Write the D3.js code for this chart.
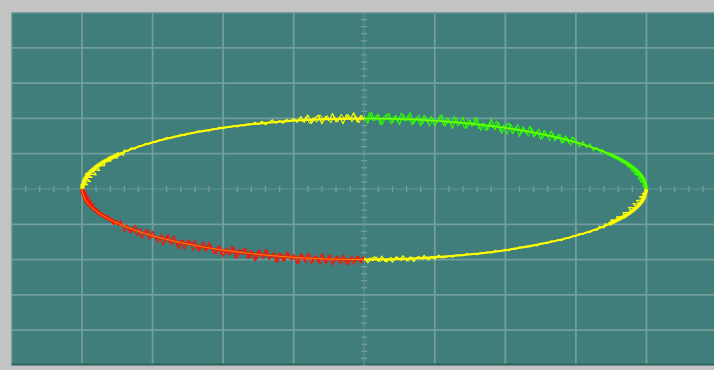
<!DOCTYPE html>
<html>
<head>
<meta charset="utf-8">
<script src="https://cdn.jsdelivr.net/npm/d3@7"></script>
<style>
body { margin: 0; background: #c3c3c3; }
svg { display: block; }
</style>
</head>
<body>
<script>
// screen divisions (10 x 10, centred on 0)
var gridTicks = [-5, -4, -3, -2, -1, 0, 1, 2, 3, 4, 5];

// clean X-Y figure, one vertex every 10 degrees
var ellipseX = [4.000, 3.939, 3.759, 3.464, 3.064, 2.571, 2.000, 1.368, 0.695, 0.000,
  -0.695, -1.368, -2.000, -2.571, -3.064, -3.464, -3.759, -3.939, -4.000,
  -3.939, -3.759, -3.464, -3.064, -2.571, -2.000, -1.368, -0.695, 0.000,
  0.695, 1.368, 2.000, 2.571, 3.064, 3.464, 3.759, 3.939];
var ellipseY = [0.000, 0.347, 0.684, 1.000, 1.286, 1.532, 1.732, 1.879, 1.970, 2.000,
  1.970, 1.879, 1.732, 1.532, 1.286, 1.000, 0.684, 0.347, 0.000,
  -0.347, -0.684, -1.000, -1.286, -1.532, -1.732, -1.879, -1.970, -2.000,
  -1.970, -1.879, -1.732, -1.532, -1.286, -1.000, -0.684, -0.347];

// noisy trace, upper left (yellow)
var ylwTopX = [-3.98, -4.015, -3.92, -3.99, -3.88, -3.95, -3.86, -3.95, -3.80, -3.85,
  -3.75, -3.81, -3.68, -3.69, -3.59, -3.61, -3.50, -3.50, -3.41,
  -3.40, -3.35, -3.30, -3.25, -3.20, -3.15, -3.10, -3.05, -3.00, -2.95, -2.90,
  -2.85, -2.80, -2.75, -2.70, -2.65, -2.60, -2.55, -2.50, -2.45, -2.40,
  -2.35, -2.30, -2.25, -2.20, -2.15, -2.10, -2.05, -2.00, -1.95, -1.90,
  -1.85, -1.80, -1.75, -1.70, -1.65, -1.60, -1.55, -1.50, -1.45, -1.40,
  -1.35, -1.30, -1.25, -1.20, -1.15, -1.10, -1.05, -1.00, -0.95, -0.90,
  -0.85, -0.80, -0.75, -0.70, -0.65, -0.60, -0.55, -0.50, -0.45, -0.40,
  -0.35, -0.30, -0.25, -0.20, -0.15, -0.10, -0.05, 0.00];
var ylwTopY = [0.00, 0.13, 0.12, 0.24, 0.21, 0.33, 0.33, 0.44, 0.40, 0.54,
  0.53, 0.66, 0.66, 0.81, 0.79, 0.92, 0.87, 1.01, 0.96, 1.11,
  1.07, 1.17, 1.13, 1.22, 1.22, 1.29, 1.27, 1.33, 1.32, 1.40,
  1.40, 1.46, 1.43, 1.49, 1.49, 1.55, 1.51, 1.58, 1.57, 1.60,
  1.65, 1.62, 1.67, 1.64, 1.70, 1.69, 1.75, 1.71, 1.77, 1.75,
  1.80, 1.76, 1.81, 1.79, 1.85, 1.82, 1.89, 1.83, 1.92, 1.82,
  1.89, 1.96, 1.86, 1.94, 1.86, 1.97, 1.92, 2.00, 1.89, 2.05,
  1.89, 2.10, 1.86, 2.01, 2.09, 1.85, 2.05, 1.94, 2.14, 1.90,
  2.04, 1.85, 2.11, 1.97, 2.16, 1.90, 2.08, 1.94];
// in-between samples near the top centre
var ylwTopFuzzX = [-0.875, -0.825, -0.775, -0.725, -0.675, -0.625, -0.575, -0.525, -0.475,
  -0.425, -0.375, -0.325, -0.275, -0.225, -0.175, -0.125, -0.075, -0.025];
var ylwTopFuzzY = [1.89, 2.05, 1.85, 2.02, 1.89, 2.10, 1.94, 2.08, 1.87,
  2.06, 1.90, 2.12, 1.95, 2.11, 1.90, 2.08, 1.87, 2.09];

// noisy trace, upper right (green)
var grnTopX = [0.00, 0.05, 0.10, 0.15, 0.20, 0.25, 0.30, 0.35, 0.40, 0.45,
  0.50, 0.55, 0.60, 0.65, 0.70, 0.75, 0.80, 0.85, 0.90, 0.95,
  1.00, 1.05, 1.10, 1.15, 1.20, 1.25, 1.30, 1.35, 1.40, 1.45,
  1.50, 1.55, 1.60, 1.65, 1.70, 1.75, 1.80, 1.85, 1.90, 1.95,
  2.00, 2.05, 2.10, 2.15, 2.20, 2.25, 2.30, 2.35, 2.40, 2.45,
  2.50, 2.55, 2.60, 2.65, 2.70, 2.75, 2.80, 2.85, 2.90, 2.95,
  3.00, 3.05, 3.10, 3.15, 3.20, 3.25, 3.29, 3.36, 3.37, 3.45,
  3.46, 3.56, 3.55, 3.65, 3.63, 3.74, 3.72, 3.84, 3.78, 3.89,
  3.83, 3.94, 3.88, 3.96, 3.91, 4.00, 3.945, 3.99];
var grnTopY = [2.08, 1.86, 2.17, 1.95, 2.12, 1.82, 2.02, 2.14, 1.88, 2.08,
  1.82, 2.11, 1.94, 2.16, 1.85, 2.03, 1.79, 2.09, 1.87, 2.05,
  1.79, 1.95, 2.10, 1.79, 1.98, 1.71, 2.01, 1.82, 2.03, 1.72,
  1.94, 1.81, 2.00, 1.66, 1.86, 1.68, 1.99, 1.68, 1.89, 1.58,
  1.77, 1.87, 1.56, 1.77, 1.49, 1.76, 1.57, 1.78, 1.47, 1.64,
  1.41, 1.66, 1.47, 1.64, 1.37, 1.54, 1.30, 1.50, 1.30, 1.47,
  1.39, 1.19, 1.35, 1.17, 1.28, 1.08, 1.18, 1.02, 1.13, 0.96,
  1.03, 0.86, 0.91, 0.79, 0.79, 0.68, 0.65, 0.54, 0.53, 0.41,
  0.42, 0.33, 0.30, 0.23, 0.21, 0.14, 0.10, 0.00];
var grnFuzzX = [0.025, 0.075, 0.125, 0.175, 0.225, 0.275, 0.325, 0.375, 0.425, 0.475,
  0.525, 0.575, 0.625, 0.675, 0.725, 0.775, 0.825, 0.875, 0.925, 0.975,
  1.025, 1.075, 1.125, 1.175, 1.225, 1.275, 1.325, 1.375, 1.425, 1.475,
  1.525, 1.575, 1.625, 1.675, 1.725, 1.775, 1.825, 1.875, 1.925, 1.975,
  2.025, 2.075, 2.125, 2.175, 2.225, 2.275, 2.325, 2.375, 2.425, 2.475,
  2.525, 2.575, 2.625, 2.675, 2.725, 2.775, 2.825, 2.875, 2.925, 2.975];
var grnFuzzY = [1.88, 2.16, 1.93, 2.10, 1.83, 2.05, 2.12, 1.84, 2.07, 1.89,
  2.16, 1.92, 2.09, 1.81, 2.00, 2.10, 1.84, 2.04, 1.77, 2.01,
  1.88, 2.08, 1.78, 2.02, 1.82, 2.07, 1.78, 1.92, 1.71, 1.98,
  1.76, 2.03, 1.70, 1.88, 1.65, 1.89, 1.74, 1.93, 1.63, 1.82,
  1.55, 1.84, 1.63, 1.83, 1.56, 1.70, 1.49, 1.72, 1.51, 1.71,
  1.43, 1.60, 1.36, 1.59, 1.40, 1.56, 1.31, 1.47, 1.23, 1.40];

// noisy trace, lower left (red)
var redBotX = [-3.99, -3.935, -3.99, -3.90, -3.97, -3.87, -3.93, -3.83, -3.90, -3.79,
  -3.83, -3.73, -3.75, -3.64, -3.65, -3.55, -3.55, -3.47, -3.45,
  -3.40, -3.35, -3.30, -3.25, -3.20, -3.15, -3.10, -3.05, -3.00, -2.95, -2.90,
  -2.85, -2.80, -2.75, -2.70, -2.65, -2.60, -2.55, -2.50, -2.45, -2.40,
  -2.35, -2.30, -2.25, -2.20, -2.15, -2.10, -2.05, -2.00, -1.95, -1.90,
  -1.85, -1.80, -1.75, -1.70, -1.65, -1.60, -1.55, -1.50, -1.45, -1.40,
  -1.35, -1.30, -1.25, -1.20, -1.15, -1.10, -1.05, -1.00, -0.95, -0.90,
  -0.85, -0.80, -0.75, -0.70, -0.65, -0.60, -0.55, -0.50, -0.45, -0.40,
  -0.35, -0.30, -0.25, -0.20, -0.15, -0.10, -0.05, 0.00];
var redBotY = [0.00, -0.13, -0.12, -0.24, -0.22, -0.33, -0.32, -0.44, -0.41, -0.57,
  -0.52, -0.67, -0.65, -0.86, -0.74, -1.01, -0.87, -1.03, -0.89, -1.20,
  -1.05, -1.24, -1.03, -1.23, -1.39, -1.17, -1.41, -1.19, -1.42, -1.36,
  -1.58, -1.32, -1.54, -1.33, -1.63, -1.46, -1.71, -1.46, -1.62, -1.46,
  -1.77, -1.56, -1.76, -1.51, -1.75, -1.84, -1.60, -1.92, -1.68, -1.86,
  -1.64, -1.95, -1.75, -1.70, -1.96, -1.74, -2.04, -1.73, -1.94, -1.72,
  -2.00, -1.85, -2.07, -1.81, -2.05, -1.78, -1.99, -1.86, -2.12, -1.83,
  -2.04, -1.83, -2.12, -1.91, -2.08, -1.82, -2.10, -1.89, -2.15, -1.92,
  -2.09, -1.87, -2.14, -1.95, -2.13, -1.90, -2.08, -1.89];
var redFuzzX = [-3.375, -3.325, -3.275, -3.225, -3.175, -3.125, -3.075, -3.025, -2.975, -2.925,
  -2.875, -2.825, -2.775, -2.725, -2.675, -2.625, -2.575, -2.525, -2.475, -2.425,
  -2.375, -2.325, -2.275, -2.225, -2.175, -2.125, -2.075, -2.025, -1.975, -1.925,
  -1.875, -1.825, -1.775, -1.725, -1.675, -1.625, -1.575, -1.525, -1.475, -1.425,
  -1.375, -1.325, -1.275, -1.225, -1.175, -1.125, -1.075, -1.025, -0.975, -0.925,
  -0.875, -0.825, -0.775, -0.725, -0.675, -0.625, -0.575, -0.525, -0.475, -0.425,
  -0.375, -0.325, -0.275, -0.225, -0.175, -0.125, -0.075, -0.025];
var redFuzzY = [-0.98, -1.24, -1.09, -1.33, -1.11, -1.30, -1.14, -1.41, -1.30, -1.53,
  -1.27, -1.50, -1.28, -1.59, -1.42, -1.70, -1.43, -1.61, -1.44, -1.74,
  -1.56, -1.74, -1.48, -1.75, -1.56, -1.85, -1.63, -1.86, -1.71, -1.87,
  -1.62, -1.96, -1.70, -1.87, -1.68, -1.96, -1.78, -2.01, -1.75, -1.97,
  -1.72, -1.94, -1.78, -2.07, -1.83, -2.04, -1.79, -2.02, -1.89, -2.10,
  -1.85, -2.10, -1.83, -2.04, -1.88, -2.14, -1.92, -2.09, -1.85, -2.07,
  -1.89, -2.12, -1.93, -2.15, -1.88, -2.06, -1.91, -2.12];

// noisy trace, lower right (yellow)
var ylwBotX = [0.00, 0.05, 0.10, 0.15, 0.20, 0.25, 0.30, 0.35, 0.40, 0.45,
  0.50, 0.55, 0.60, 0.65, 0.70, 0.75, 0.80, 0.85, 0.90, 0.95,
  1.00, 1.05, 1.10, 1.15, 1.20, 1.25, 1.30, 1.35, 1.40, 1.45,
  1.50, 1.55, 1.60, 1.65, 1.70, 1.75, 1.80, 1.85, 1.90, 1.95,
  2.00, 2.05, 2.10, 2.15, 2.20, 2.25, 2.30, 2.35, 2.40, 2.45,
  2.50, 2.55, 2.60, 2.65, 2.70, 2.75, 2.80, 2.85, 2.90, 2.95,
  3.00, 3.05, 3.10, 3.15, 3.20, 3.25, 3.30, 3.33, 3.40, 3.41,
  3.50, 3.50, 3.59, 3.58, 3.70, 3.67, 3.79, 3.75, 3.87, 3.81,
  3.91, 3.86, 3.96, 3.90, 3.97, 3.94, 3.995, 3.99];
var ylwBotY = [-1.94, -2.09, -1.97, -1.92, -2.05, -1.90, -2.06, -1.97, -2.07, -1.92,
  -2.01, -1.89, -2.04, -1.92, -2.06, -1.93, -1.98, -1.88, -2.01, -1.91,
  -1.99, -1.87, -1.95, -1.94, -1.90, -1.93, -1.87, -1.88, -1.89, -1.83,
  -1.86, -1.82, -1.86, -1.81, -1.82, -1.78, -1.81, -1.74, -1.77, -1.75,
  -1.71, -1.75, -1.69, -1.71, -1.64, -1.66, -1.62, -1.64, -1.59, -1.61,
  -1.54, -1.54, -1.54, -1.47, -1.49, -1.43, -1.46, -1.39, -1.40, -1.33,
  -1.33, -1.26, -1.28, -1.22, -1.23, -1.15, -1.17, -1.06, -1.10, -0.99,
  -1.01, -0.87, -0.90, -0.78, -0.81, -0.67, -0.66, -0.52, -0.54, -0.41,
  -0.43, -0.33, -0.30, -0.22, -0.21, -0.13, -0.11, 0.00];
var ylwBotFuzzX = [0.025, 0.075, 0.125, 0.175, 0.225, 0.275, 0.325, 0.375, 0.425, 0.475,
  0.525, 0.575, 0.625, 0.675, 0.725, 0.775, 0.825, 0.875, 0.925, 0.975];
var ylwBotFuzzY = [-2.07, -1.95, -2.04, -1.92, -2.06, -1.97, -2.07, -1.93, -2.02, -1.92,
  -2.04, -1.94, -2.05, -1.92, -2.01, -1.90, -2.01, -1.92, -2.00, -1.90];

// set the dimensions of the screen area
var width = 714, height = 370;
var screen = {left: 11.5, top: 12.5, right: 717, bottom: 365.5};

var yellow = "#ffff00", green = "#2cff00", red = "#ff1200";

// set the ranges
var x = d3.scaleLinear().domain([-5, 5]).range([screen.left, screen.right]);
var y = d3.scaleLinear().domain([-5, 5]).range([screen.bottom, screen.top]);

var svg = d3.select("body").append("svg")
  .attr("width", width)
  .attr("height", height);

var defs = svg.append("defs");
defs.append("clipPath")
  .attr("id", "scr")
  .append("rect")
  .attr("x", screen.left)
  .attr("y", screen.top)
  .attr("width", screen.right - screen.left)
  .attr("height", screen.bottom - screen.top);
defs.append("filter")
  .attr("id", "soft")
  .append("feGaussianBlur")
  .attr("stdDeviation", 0.5);

// teal screen
svg.append("rect")
  .attr("x", screen.left)
  .attr("y", screen.top)
  .attr("width", screen.right - screen.left)
  .attr("height", screen.bottom - screen.top)
  .attr("fill", "#3f7e7a");

var g = svg.append("g").attr("clip-path", "url(#scr)");
var grid = g.append("g").attr("filter", "url(#soft)");

var gridColor = "#729e9b";

// grid lines
grid.selectAll("line.vgrid")
  .data(gridTicks.filter(function(d) { return d !== 0; }))
  .join("line")
  .attr("class", "vgrid")
  .attr("x1", function(d) { return x(d); })
  .attr("x2", function(d) { return x(d); })
  .attr("y1", screen.top)
  .attr("y2", screen.bottom)
  .attr("stroke", gridColor)
  .attr("stroke-width", 1.8);

grid.selectAll("line.hgrid")
  .data(gridTicks.filter(function(d) { return d !== 0 && d !== -5; }))
  .join("line")
  .attr("class", "hgrid")
  .attr("x1", screen.left)
  .attr("x2", screen.right)
  .attr("y1", function(d) { return y(d); })
  .attr("y2", function(d) { return y(d); })
  .attr("stroke", gridColor)
  .attr("stroke-width", 1.8);

// dark lower edge of the screen
grid.append("line")
  .attr("x1", screen.left).attr("x2", screen.right)
  .attr("y1", screen.bottom - 1).attr("y2", screen.bottom - 1)
  .attr("stroke", "#2e625e")
  .attr("stroke-width", 2);

// centre axes, fainter, with minor ticks
grid.append("line")
  .attr("x1", x(0)).attr("x2", x(0))
  .attr("y1", screen.top).attr("y2", screen.bottom)
  .attr("stroke", gridColor).attr("stroke-width", 1.4).attr("opacity", 0.5);
grid.append("line")
  .attr("x1", screen.left).attr("x2", screen.right)
  .attr("y1", y(0)).attr("y2", y(0))
  .attr("stroke", gridColor).attr("stroke-width", 1.4).attr("opacity", 0.5);

grid.selectAll("line.xminor")
  .data(x.ticks(50))
  .join("line")
  .attr("class", "xminor")
  .attr("x1", function(d) { return x(d); })
  .attr("x2", function(d) { return x(d); })
  .attr("y1", y(0) - 3)
  .attr("y2", y(0) + 3)
  .attr("stroke", gridColor)
  .attr("stroke-width", 1.3);

grid.selectAll("line.yminor")
  .data(y.ticks(50))
  .join("line")
  .attr("class", "yminor")
  .attr("x1", x(0) - 3)
  .attr("x2", x(0) + 3)
  .attr("y1", function(d) { return y(d); })
  .attr("y2", function(d) { return y(d); })
  .attr("stroke", gridColor)
  .attr("stroke-width", 1.3);

// the noisy traces
var traces = [
  {xs: ylwTopX, ys: ylwTopY, color: yellow, w: 1.2},
  {xs: ylwTopFuzzX, ys: ylwTopFuzzY, color: yellow, w: 1},
  {xs: ylwBotX, ys: ylwBotY, color: yellow, w: 1.2},
  {xs: ylwBotFuzzX, ys: ylwBotFuzzY, color: yellow, w: 1},
  {xs: grnTopX, ys: grnTopY, color: green, w: 1.2},
  {xs: grnFuzzX, ys: grnFuzzY, color: green, w: 1},
  {xs: redBotX, ys: redBotY, color: red, w: 1.2},
  {xs: redFuzzX, ys: redFuzzY, color: red, w: 1}
];

var traceLine = d3.line()
  .x(function(d) { return x(d[0]); })
  .y(function(d) { return y(d[1]); });

var beam = g.append("g").attr("filter", "url(#soft)");

beam.selectAll("path.trace")
  .data(traces)
  .join("path")
  .attr("class", "trace")
  .attr("d", function(d) { return traceLine(d3.zip(d.xs, d.ys)); })
  .attr("fill", "none")
  .attr("stroke", function(d) { return d.color; })
  .attr("stroke-width", function(d) { return d.w; })
  .attr("stroke-linejoin", "round");

// solid core of each quarter, taken from the clean figure
var arcLine = d3.line()
  .curve(d3.curveCatmullRom)
  .x(function(d) { return x(d[0]); })
  .y(function(d) { return y(d[1]); });

function arcPts(from, to) {
  return d3.range(from, to + 1).map(function(i) {
    return [ellipseX[i % ellipseX.length], ellipseY[i % ellipseY.length]];
  });
}

var cores = [
  {from: 0, to: 9, color: green, w: 2},
  {from: 9, to: 18, color: yellow, w: 2},
  {from: 18, to: 27, color: red, w: 2},
  {from: 27, to: 36, color: yellow, w: 2},
  // brighter, wider band at the turning points
  {from: 0, to: 3, color: green, w: 4},
  {from: 15, to: 18, color: yellow, w: 4.5},
  {from: 18, to: 21, color: red, w: 4},
  {from: 33, to: 36, color: yellow, w: 4}
];

beam.selectAll("path.core")
  .data(cores)
  .join("path")
  .attr("class", "core")
  .attr("d", function(d) { return arcLine(arcPts(d.from, d.to)); })
  .attr("fill", "none")
  .attr("stroke", function(d) { return d.color; })
  .attr("stroke-width", function(d) { return d.w; })
  .attr("opacity", function(d) { return d.w > 2 ? 0.8 : 1; });

// thin overlay of the clean figure
var ellipseLine = d3.line()
  .curve(d3.curveCatmullRomClosed)
  .x(function(d) { return x(d[0]); })
  .y(function(d) { return y(d[1]); });

beam.append("path")
  .attr("d", ellipseLine(d3.zip(ellipseX, ellipseY)))
  .attr("fill", "none")
  .attr("stroke", yellow)
  .attr("stroke-width", 0.9)
  .attr("opacity", 0.55);
</script>
</body>
</html>
